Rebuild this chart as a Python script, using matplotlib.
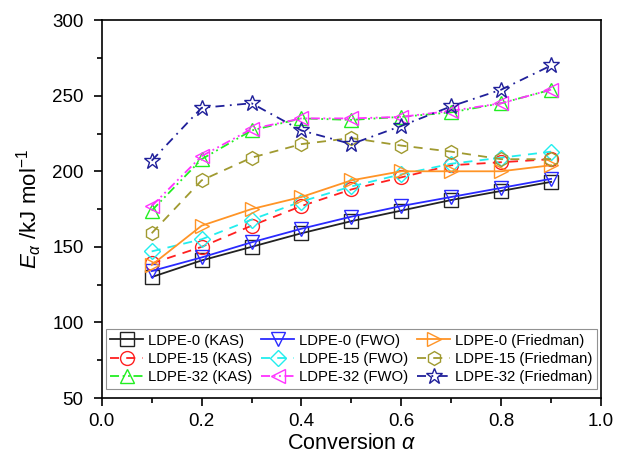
import matplotlib
matplotlib.use("Agg")
import matplotlib.pyplot as plt
from matplotlib.ticker import MultipleLocator, FormatStrFormatter

plt.rcParams['font.family'] = ['Liberation Sans', 'DejaVu Sans']
plt.rcParams['mathtext.fontset'] = 'custom'
plt.rcParams['mathtext.rm'] = 'Liberation Sans'
plt.rcParams['mathtext.it'] = 'Liberation Sans:italic'

alpha = [0.1, 0.2, 0.3, 0.4, 0.5, 0.6, 0.7, 0.8, 0.9]

kas_0 = [130, 141, 150, 159, 167, 174, 181, 187, 193]
kas_15 = [139, 150, 164, 177, 188, 196, 204, 206, 208]
kas_32 = [174, 208, 227, 235, 234, 236, 239, 245, 254]

fwo_0 = [134, 143, 153, 162, 170, 177, 183, 189, 195]
fwo_15 = [147, 155, 168, 180, 190, 198, 205, 209, 213]
fwo_32 = [177, 210, 228, 235, 235, 236, 240, 245, 254]

fr_0 = [138, 164, 175, 183, 194, 200, 200, 200, 204]
fr_15 = [159, 194, 209, 218, 222, 217, 213, 208, 208]
fr_32 = [207, 242, 245, 227, 218, 230, 243, 254, 270]

series = [
    ("LDPE-0 (KAS)", kas_0, "#222222", "s", "-"),
    ("LDPE-15 (KAS)", kas_15, "#ff2020", "o", (0, (5, 4))),
    ("LDPE-32 (KAS)", kas_32, "#22ee22", "^", (0, (5, 2, 1, 2, 1, 2))),
    ("LDPE-0 (FWO)", fwo_0, "#2a2aff", "v", "-"),
    ("LDPE-15 (FWO)", fwo_15, "#22eeee", "D", (0, (5, 4))),
    ("LDPE-32 (FWO)", fwo_32, "#ff33ff", "<", (0, (5, 2, 1, 2, 1, 2))),
    ("LDPE-0 (Friedman)", fr_0, "#ff9426", ">", "-"),
    ("LDPE-15 (Friedman)", fr_15, "#a09a30", "h", (0, (5, 4))),
    ("LDPE-32 (Friedman)", fr_32, "#20209a", "*", (0, (5, 3, 1, 3))),
]

fig = plt.figure(figsize=(6.32, 4.58), dpi=100)
ax = fig.add_axes([0.161, 0.131, 0.790, 0.825])

for label, vals, color, marker, ls in series:
    ms = 10
    if marker == "*":
        ms = 12
    elif marker == "D":
        ms = 8.5
    ax.plot(alpha, vals, color=color, linestyle=ls, linewidth=1.3,
            marker=marker, markersize=ms, markerfacecolor="none",
            markeredgecolor=color, markeredgewidth=1.0, label=label)

ax.set_xlim(0.0, 1.0)
ax.set_ylim(50, 300)
ax.xaxis.set_major_locator(MultipleLocator(0.2))
ax.xaxis.set_minor_locator(MultipleLocator(0.1))
ax.yaxis.set_major_locator(MultipleLocator(50))
ax.yaxis.set_minor_locator(MultipleLocator(25))
ax.xaxis.set_major_formatter(FormatStrFormatter('%.1f'))

ax.tick_params(which='both', direction='out', top=False, right=False,
               labelsize=13.5, width=1.2)
ax.tick_params(which='major', length=6)
ax.tick_params(which='minor', length=3.5)
ax.tick_params(axis='y', which='major', pad=7)
ax.tick_params(axis='x', which='major', pad=5)
for sp in ax.spines.values():
    sp.set_linewidth(1.2)

ax.set_xlabel(r"Conversion $\alpha$", fontsize=15.5, labelpad=2)
ax.set_ylabel(r"$E_{\alpha}$ /kJ mol$^{-1}$", fontsize=16, labelpad=6)

leg = ax.legend(loc="lower center", ncol=3, fontsize=10.7, frameon=True,
                fancybox=False, edgecolor="#777777", handlelength=2.2,
                handletextpad=0.35, columnspacing=0.6, labelspacing=0.3,
                borderpad=0.3, borderaxespad=0.0,
                bbox_to_anchor=(0.5, 0.024))
leg.get_frame().set_linewidth(0.8)

fig.savefig("out.png", dpi=100)
